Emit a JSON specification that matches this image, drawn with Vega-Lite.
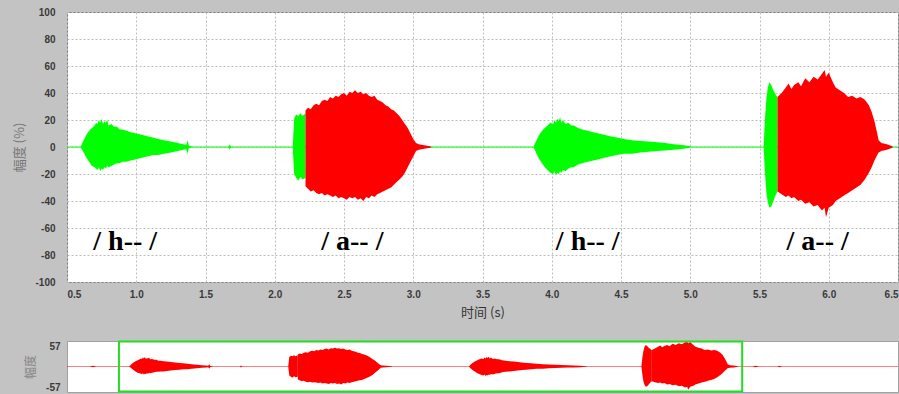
{
  "$schema": "https://vega.github.io/schema/vega-lite/v6.json",
  "background": "#c3c3c3",
  "padding": {"left": 13, "top": 6, "right": 0, "bottom": 0},
  "bounds": "flush",
  "spacing": 59,
  "datasets": {
    "wave": [
      {"t": 0.0, "hi": 0.45, "lo": -0.45, "s": "base", "c": "g"},
      {"t": 8.0, "hi": 0.45, "lo": -0.45, "s": "base", "c": "g"},
      {"t": 0.60, "hi": 0.5, "lo": -0.5, "s": "h1", "c": "g"},
      {"t": 0.62, "hi": 5, "lo": -4, "s": "h1", "c": "g"},
      {"t": 0.64, "hi": 9, "lo": -8, "s": "h1", "c": "g"},
      {"t": 0.66, "hi": 12, "lo": -11, "s": "h1", "c": "g"},
      {"t": 0.68, "hi": 14, "lo": -14, "s": "h1", "c": "g"},
      {"t": 0.70, "hi": 16, "lo": -15, "s": "h1", "c": "g"},
      {"t": 0.71, "hi": 18, "lo": -16, "s": "h1", "c": "g"},
      {"t": 0.72, "hi": 17, "lo": -17, "s": "h1", "c": "g"},
      {"t": 0.73, "hi": 20, "lo": -15, "s": "h1", "c": "g"},
      {"t": 0.74, "hi": 18, "lo": -18, "s": "h1", "c": "g"},
      {"t": 0.75, "hi": 21, "lo": -16, "s": "h1", "c": "g"},
      {"t": 0.76, "hi": 17, "lo": -17, "s": "h1", "c": "g"},
      {"t": 0.77, "hi": 19, "lo": -15, "s": "h1", "c": "g"},
      {"t": 0.78, "hi": 18, "lo": -16, "s": "h1", "c": "g"},
      {"t": 0.79, "hi": 20, "lo": -14, "s": "h1", "c": "g"},
      {"t": 0.80, "hi": 16, "lo": -15, "s": "h1", "c": "g"},
      {"t": 0.82, "hi": 17, "lo": -14, "s": "h1", "c": "g"},
      {"t": 0.84, "hi": 15, "lo": -13, "s": "h1", "c": "g"},
      {"t": 0.86, "hi": 15, "lo": -12, "s": "h1", "c": "g"},
      {"t": 0.88, "hi": 13, "lo": -12, "s": "h1", "c": "g"},
      {"t": 0.90, "hi": 13, "lo": -11, "s": "h1", "c": "g"},
      {"t": 0.93, "hi": 12, "lo": -11, "s": "h1", "c": "g"},
      {"t": 0.96, "hi": 11, "lo": -10, "s": "h1", "c": "g"},
      {"t": 1.00, "hi": 10, "lo": -9, "s": "h1", "c": "g"},
      {"t": 1.04, "hi": 9, "lo": -8, "s": "h1", "c": "g"},
      {"t": 1.08, "hi": 8, "lo": -7, "s": "h1", "c": "g"},
      {"t": 1.12, "hi": 7, "lo": -6, "s": "h1", "c": "g"},
      {"t": 1.16, "hi": 6, "lo": -6, "s": "h1", "c": "g"},
      {"t": 1.20, "hi": 5, "lo": -5, "s": "h1", "c": "g"},
      {"t": 1.25, "hi": 4, "lo": -4, "s": "h1", "c": "g"},
      {"t": 1.30, "hi": 3, "lo": -3, "s": "h1", "c": "g"},
      {"t": 1.34, "hi": 2, "lo": -2, "s": "h1", "c": "g"},
      {"t": 1.36, "hi": 1.5, "lo": -1.5, "s": "h1", "c": "g"},
      {"t": 1.37, "hi": 5, "lo": -5, "s": "h1", "c": "g"},
      {"t": 1.38, "hi": 1, "lo": -1, "s": "h1", "c": "g"},
      {"t": 1.40, "hi": 0.3, "lo": -0.3, "s": "h1", "c": "g"},
      {"t": 1.665, "hi": 0, "lo": 0, "s": "b1", "c": "g"},
      {"t": 1.675, "hi": 2, "lo": -2, "s": "b1", "c": "g"},
      {"t": 1.685, "hi": 0, "lo": 0, "s": "b1", "c": "g"},
      {"t": 2.130, "hi": 0.5, "lo": -0.5, "s": "a1g", "c": "g"},
      {"t": 2.140, "hi": 21, "lo": -20, "s": "a1g", "c": "g"},
      {"t": 2.155, "hi": 24, "lo": -23, "s": "a1g", "c": "g"},
      {"t": 2.170, "hi": 23, "lo": -25, "s": "a1g", "c": "g"},
      {"t": 2.185, "hi": 25, "lo": -22, "s": "a1g", "c": "g"},
      {"t": 2.200, "hi": 23, "lo": -24, "s": "a1g", "c": "g"},
      {"t": 2.222, "hi": 25, "lo": -23, "s": "a1g", "c": "g"},
      {"t": 2.222, "hi": 27, "lo": -29, "s": "a1r", "c": "r"},
      {"t": 2.24, "hi": 29, "lo": -31, "s": "a1r", "c": "r"},
      {"t": 2.26, "hi": 28, "lo": -33, "s": "a1r", "c": "r"},
      {"t": 2.28, "hi": 31, "lo": -32, "s": "a1r", "c": "r"},
      {"t": 2.30, "hi": 32, "lo": -34, "s": "a1r", "c": "r"},
      {"t": 2.32, "hi": 31, "lo": -35, "s": "a1r", "c": "r"},
      {"t": 2.34, "hi": 34, "lo": -34, "s": "a1r", "c": "r"},
      {"t": 2.36, "hi": 35, "lo": -36, "s": "a1r", "c": "r"},
      {"t": 2.38, "hi": 34, "lo": -35, "s": "a1r", "c": "r"},
      {"t": 2.40, "hi": 37, "lo": -36, "s": "a1r", "c": "r"},
      {"t": 2.42, "hi": 36, "lo": -37, "s": "a1r", "c": "r"},
      {"t": 2.44, "hi": 38, "lo": -36, "s": "a1r", "c": "r"},
      {"t": 2.46, "hi": 37, "lo": -38, "s": "a1r", "c": "r"},
      {"t": 2.48, "hi": 39, "lo": -37, "s": "a1r", "c": "r"},
      {"t": 2.50, "hi": 40, "lo": -38, "s": "a1r", "c": "r"},
      {"t": 2.52, "hi": 38, "lo": -39, "s": "a1r", "c": "r"},
      {"t": 2.54, "hi": 41, "lo": -37, "s": "a1r", "c": "r"},
      {"t": 2.56, "hi": 40, "lo": -38, "s": "a1r", "c": "r"},
      {"t": 2.58, "hi": 42, "lo": -37, "s": "a1r", "c": "r"},
      {"t": 2.60, "hi": 40, "lo": -39, "s": "a1r", "c": "r"},
      {"t": 2.62, "hi": 41, "lo": -38, "s": "a1r", "c": "r"},
      {"t": 2.64, "hi": 39, "lo": -40, "s": "a1r", "c": "r"},
      {"t": 2.66, "hi": 40, "lo": -37, "s": "a1r", "c": "r"},
      {"t": 2.68, "hi": 38, "lo": -38, "s": "a1r", "c": "r"},
      {"t": 2.70, "hi": 37, "lo": -36, "s": "a1r", "c": "r"},
      {"t": 2.72, "hi": 38, "lo": -37, "s": "a1r", "c": "r"},
      {"t": 2.74, "hi": 35, "lo": -35, "s": "a1r", "c": "r"},
      {"t": 2.76, "hi": 34, "lo": -34, "s": "a1r", "c": "r"},
      {"t": 2.78, "hi": 33, "lo": -33, "s": "a1r", "c": "r"},
      {"t": 2.80, "hi": 31, "lo": -32, "s": "a1r", "c": "r"},
      {"t": 2.82, "hi": 30, "lo": -31, "s": "a1r", "c": "r"},
      {"t": 2.84, "hi": 28, "lo": -30, "s": "a1r", "c": "r"},
      {"t": 2.86, "hi": 27, "lo": -28, "s": "a1r", "c": "r"},
      {"t": 2.88, "hi": 25, "lo": -26, "s": "a1r", "c": "r"},
      {"t": 2.90, "hi": 23, "lo": -24, "s": "a1r", "c": "r"},
      {"t": 2.92, "hi": 20, "lo": -22, "s": "a1r", "c": "r"},
      {"t": 2.94, "hi": 17, "lo": -19, "s": "a1r", "c": "r"},
      {"t": 2.96, "hi": 14, "lo": -15, "s": "a1r", "c": "r"},
      {"t": 2.98, "hi": 10, "lo": -11, "s": "a1r", "c": "r"},
      {"t": 3.00, "hi": 6, "lo": -7, "s": "a1r", "c": "r"},
      {"t": 3.02, "hi": 3, "lo": -3, "s": "a1r", "c": "r"},
      {"t": 3.04, "hi": 2, "lo": -2, "s": "a1r", "c": "r"},
      {"t": 3.07, "hi": 1.5, "lo": -1.5, "s": "a1r", "c": "r"},
      {"t": 3.10, "hi": 1, "lo": -1, "s": "a1r", "c": "r"},
      {"t": 3.13, "hi": 0.3, "lo": -0.3, "s": "a1r", "c": "r"},
      {"t": 3.87, "hi": 0.5, "lo": -0.5, "s": "h2", "c": "g"},
      {"t": 3.89, "hi": 5, "lo": -5, "s": "h2", "c": "g"},
      {"t": 3.91, "hi": 9, "lo": -9, "s": "h2", "c": "g"},
      {"t": 3.93, "hi": 12, "lo": -12, "s": "h2", "c": "g"},
      {"t": 3.95, "hi": 14, "lo": -15, "s": "h2", "c": "g"},
      {"t": 3.97, "hi": 16, "lo": -17, "s": "h2", "c": "g"},
      {"t": 3.99, "hi": 18, "lo": -19, "s": "h2", "c": "g"},
      {"t": 4.01, "hi": 17, "lo": -20, "s": "h2", "c": "g"},
      {"t": 4.02, "hi": 20, "lo": -18, "s": "h2", "c": "g"},
      {"t": 4.03, "hi": 18, "lo": -21, "s": "h2", "c": "g"},
      {"t": 4.04, "hi": 21, "lo": -19, "s": "h2", "c": "g"},
      {"t": 4.05, "hi": 19, "lo": -20, "s": "h2", "c": "g"},
      {"t": 4.06, "hi": 22, "lo": -18, "s": "h2", "c": "g"},
      {"t": 4.07, "hi": 18, "lo": -19, "s": "h2", "c": "g"},
      {"t": 4.08, "hi": 20, "lo": -17, "s": "h2", "c": "g"},
      {"t": 4.10, "hi": 17, "lo": -18, "s": "h2", "c": "g"},
      {"t": 4.12, "hi": 18, "lo": -16, "s": "h2", "c": "g"},
      {"t": 4.14, "hi": 16, "lo": -15, "s": "h2", "c": "g"},
      {"t": 4.16, "hi": 16, "lo": -15, "s": "h2", "c": "g"},
      {"t": 4.19, "hi": 14, "lo": -13, "s": "h2", "c": "g"},
      {"t": 4.22, "hi": 13, "lo": -12, "s": "h2", "c": "g"},
      {"t": 4.26, "hi": 12, "lo": -11, "s": "h2", "c": "g"},
      {"t": 4.30, "hi": 11, "lo": -10, "s": "h2", "c": "g"},
      {"t": 4.34, "hi": 10, "lo": -9, "s": "h2", "c": "g"},
      {"t": 4.38, "hi": 9, "lo": -8, "s": "h2", "c": "g"},
      {"t": 4.42, "hi": 8, "lo": -7, "s": "h2", "c": "g"},
      {"t": 4.47, "hi": 7, "lo": -6, "s": "h2", "c": "g"},
      {"t": 4.52, "hi": 6, "lo": -5, "s": "h2", "c": "g"},
      {"t": 4.58, "hi": 5, "lo": -5, "s": "h2", "c": "g"},
      {"t": 4.64, "hi": 4.5, "lo": -4, "s": "h2", "c": "g"},
      {"t": 4.70, "hi": 4, "lo": -3.5, "s": "h2", "c": "g"},
      {"t": 4.76, "hi": 3.5, "lo": -3, "s": "h2", "c": "g"},
      {"t": 4.82, "hi": 3, "lo": -2.5, "s": "h2", "c": "g"},
      {"t": 4.88, "hi": 2, "lo": -2, "s": "h2", "c": "g"},
      {"t": 4.94, "hi": 1.5, "lo": -1.5, "s": "h2", "c": "g"},
      {"t": 5.00, "hi": 0.5, "lo": -0.5, "s": "h2", "c": "g"},
      {"t": 5.530, "hi": 0.5, "lo": -0.5, "s": "a2g", "c": "g"},
      {"t": 5.540, "hi": 22, "lo": -20, "s": "a2g", "c": "g"},
      {"t": 5.550, "hi": 36, "lo": -34, "s": "a2g", "c": "g"},
      {"t": 5.560, "hi": 44, "lo": -41, "s": "a2g", "c": "g"},
      {"t": 5.572, "hi": 48, "lo": -45, "s": "a2g", "c": "g"},
      {"t": 5.585, "hi": 46, "lo": -44, "s": "a2g", "c": "g"},
      {"t": 5.600, "hi": 42, "lo": -40, "s": "a2g", "c": "g"},
      {"t": 5.615, "hi": 39, "lo": -36, "s": "a2g", "c": "g"},
      {"t": 5.630, "hi": 37, "lo": -33, "s": "a2g", "c": "g"},
      {"t": 5.63, "hi": 37, "lo": -33, "s": "a2r", "c": "r"},
      {"t": 5.66, "hi": 40, "lo": -35, "s": "a2r", "c": "r"},
      {"t": 5.69, "hi": 44, "lo": -37, "s": "a2r", "c": "r"},
      {"t": 5.71, "hi": 47, "lo": -36, "s": "a2r", "c": "r"},
      {"t": 5.73, "hi": 43, "lo": -38, "s": "a2r", "c": "r"},
      {"t": 5.75, "hi": 46, "lo": -37, "s": "a2r", "c": "r"},
      {"t": 5.78, "hi": 48, "lo": -40, "s": "a2r", "c": "r"},
      {"t": 5.80, "hi": 45, "lo": -39, "s": "a2r", "c": "r"},
      {"t": 5.83, "hi": 51, "lo": -42, "s": "a2r", "c": "r"},
      {"t": 5.86, "hi": 48, "lo": -41, "s": "a2r", "c": "r"},
      {"t": 5.89, "hi": 52, "lo": -44, "s": "a2r", "c": "r"},
      {"t": 5.92, "hi": 50, "lo": -43, "s": "a2r", "c": "r"},
      {"t": 5.95, "hi": 54, "lo": -47, "s": "a2r", "c": "r"},
      {"t": 5.97, "hi": 57, "lo": -45, "s": "a2r", "c": "r"},
      {"t": 5.98, "hi": 52, "lo": -52, "s": "a2r", "c": "r"},
      {"t": 6.00, "hi": 55, "lo": -45, "s": "a2r", "c": "r"},
      {"t": 6.03, "hi": 48, "lo": -43, "s": "a2r", "c": "r"},
      {"t": 6.05, "hi": 44, "lo": -40, "s": "a2r", "c": "r"},
      {"t": 6.08, "hi": 42, "lo": -38, "s": "a2r", "c": "r"},
      {"t": 6.11, "hi": 40, "lo": -36, "s": "a2r", "c": "r"},
      {"t": 6.14, "hi": 37, "lo": -34, "s": "a2r", "c": "r"},
      {"t": 6.17, "hi": 38, "lo": -32, "s": "a2r", "c": "r"},
      {"t": 6.20, "hi": 36, "lo": -30, "s": "a2r", "c": "r"},
      {"t": 6.23, "hi": 37, "lo": -28, "s": "a2r", "c": "r"},
      {"t": 6.26, "hi": 35, "lo": -24, "s": "a2r", "c": "r"},
      {"t": 6.29, "hi": 31, "lo": -19, "s": "a2r", "c": "r"},
      {"t": 6.31, "hi": 26, "lo": -15, "s": "a2r", "c": "r"},
      {"t": 6.33, "hi": 19, "lo": -10, "s": "a2r", "c": "r"},
      {"t": 6.35, "hi": 10, "lo": -6, "s": "a2r", "c": "r"},
      {"t": 6.36, "hi": 5, "lo": -4, "s": "a2r", "c": "r"},
      {"t": 6.38, "hi": 3, "lo": -3, "s": "a2r", "c": "r"},
      {"t": 6.42, "hi": 2, "lo": -2, "s": "a2r", "c": "r"},
      {"t": 6.46, "hi": 0.5, "lo": -0.5, "s": "a2r", "c": "r"},
      {"t": 0.22, "hi": 0, "lo": 0, "s": "b2", "c": "g"},
      {"t": 0.25, "hi": 1.5, "lo": -1.5, "s": "b2", "c": "g"},
      {"t": 0.28, "hi": 0, "lo": 0, "s": "b2", "c": "g"},
      {"t": 6.60, "hi": 0, "lo": 0, "s": "b3", "c": "g"},
      {"t": 6.63, "hi": 1.5, "lo": -1.5, "s": "b3", "c": "g"},
      {"t": 6.66, "hi": 0, "lo": 0, "s": "b3", "c": "g"},
      {"t": 6.84, "hi": 0, "lo": 0, "s": "b4", "c": "g"},
      {"t": 6.86, "hi": 1.5, "lo": -1.5, "s": "b4", "c": "g"},
      {"t": 6.88, "hi": 0, "lo": 0, "s": "b4", "c": "g"}
    ],
    "labels": [
      {"t": 0.92, "hi": -70, "txt": "/ h-- /"},
      {"t": 2.56, "hi": -70, "txt": "/ a-- /"},
      {"t": 4.26, "hi": -70, "txt": "/ h-- /"},
      {"t": 5.92, "hi": -70, "txt": "/ a-- /"}
    ],
    "sel": [
      {"a": 0.5, "b": 6.5}
    ]
  },
  "vconcat": [
    {
      "width": 831,
      "height": 270,
      "view": {"fill": "white", "stroke": "#7f7f7f"},
      "encoding": {
        "x": {
          "field": "t", "type": "quantitative",
          "scale": {"domain": [0.5, 6.5], "nice": false, "zero": false},
          "axis": {
            "values": [0.5, 1, 1.5, 2, 2.5, 3, 3.5, 4, 4.5, 5, 5.5, 6, 6.5],
            "format": ".1f", "labelFlush": true, "labelOverlap": false, "labelPadding": 7,
            "title": "时间 (s)", "titleFontSize": 13, "titleColor": "#333333",
            "titlePadding": 7, "grid": true
          }
        },
        "y": {
          "field": "hi", "type": "quantitative",
          "scale": {"domain": [-100, 100], "nice": false},
          "axis": {
            "values": [-100, -80, -60, -40, -20, 0, 20, 40, 60, 80, 100],
            "labelOverlap": false,
            "labelExpr": "replace(datum.label, '−', '-')",
            "labelPadding": 12, "title": "幅度 (%)", "titleFontSize": 13,
            "titleColor": "#777777", "titlePadding": 8, "grid": true
          }
        }
      },
      "layer": [
        {
          "data": {"name": "wave"},
          "mark": {"type": "area", "clip": true, "strokeWidth": 0},
          "encoding": {
            "y2": {"field": "lo"},
            "color": {
              "field": "c", "type": "nominal",
              "scale": {"domain": ["g", "r"], "range": ["#00ff00", "#ff0000"]},
              "legend": null
            },
            "detail": {"field": "s"}
          }
        },
        {
          "data": {"name": "labels"},
          "mark": {"type": "text", "font": "Liberation Serif", "fontWeight": "bold", "fontSize": 28, "color": "#000000", "baseline": "middle"},
          "encoding": {
            "text": {"field": "txt"}
          }
        }
      ]
    },
    {
      "width": 831,
      "height": 51,
      "view": {"fill": "white", "stroke": "#a0a0a0"},
      "layer": [
        {
          "mark": {"type": "rule", "color": "#ff3030", "strokeWidth": 1},
          "encoding": {"y": {"datum": 0}}
        },
        {
          "data": {"name": "wave"},
          "mark": {"type": "area", "color": "#ff0000", "strokeWidth": 0},
          "encoding": {
            "x": {
              "field": "t", "type": "quantitative",
              "scale": {"domain": [0, 8], "nice": false, "zero": false},
              "axis": null
            },
            "y": {
              "field": "hi", "type": "quantitative",
              "scale": {"domain": [-57, 57], "nice": false},
              "axis": {
                "values": [-57, 57], "labelFlush": true, "labelOverlap": false, "labelPadding": 7,
                "labelExpr": "replace(datum.label, '−', '-')",
                "grid": false, "title": "幅度", "titleFontSize": 12,
                "titleColor": "#888888", "titlePadding": 8
              }
            },
            "y2": {"field": "lo"},
            "detail": {"field": "s"}
          }
        },
        {
          "data": {"name": "sel"},
          "mark": {"type": "rect", "fill": "transparent", "stroke": "#22dd22", "strokeWidth": 2},
          "encoding": {
            "x": {"field": "a", "type": "quantitative"},
            "x2": {"field": "b"},
            "y": {"datum": -56},
            "y2": {"datum": 56}
          }
        }
      ]
    }
  ],
  "config": {
    "axis": {
      "labelFont": "Liberation Sans",
      "labelFontWeight": "bold",
      "labelFontSize": 10,
      "labelColor": "#3a3a3a",
      "ticks": false,
      "domain": false,
      "gridColor": "#bdbdbd",
      "gridDash": [2, 2],
      "gridWidth": 1,
      "titleFont": "Noto Sans CJK SC",
      "titleFontWeight": "normal"
    }
  }
}
